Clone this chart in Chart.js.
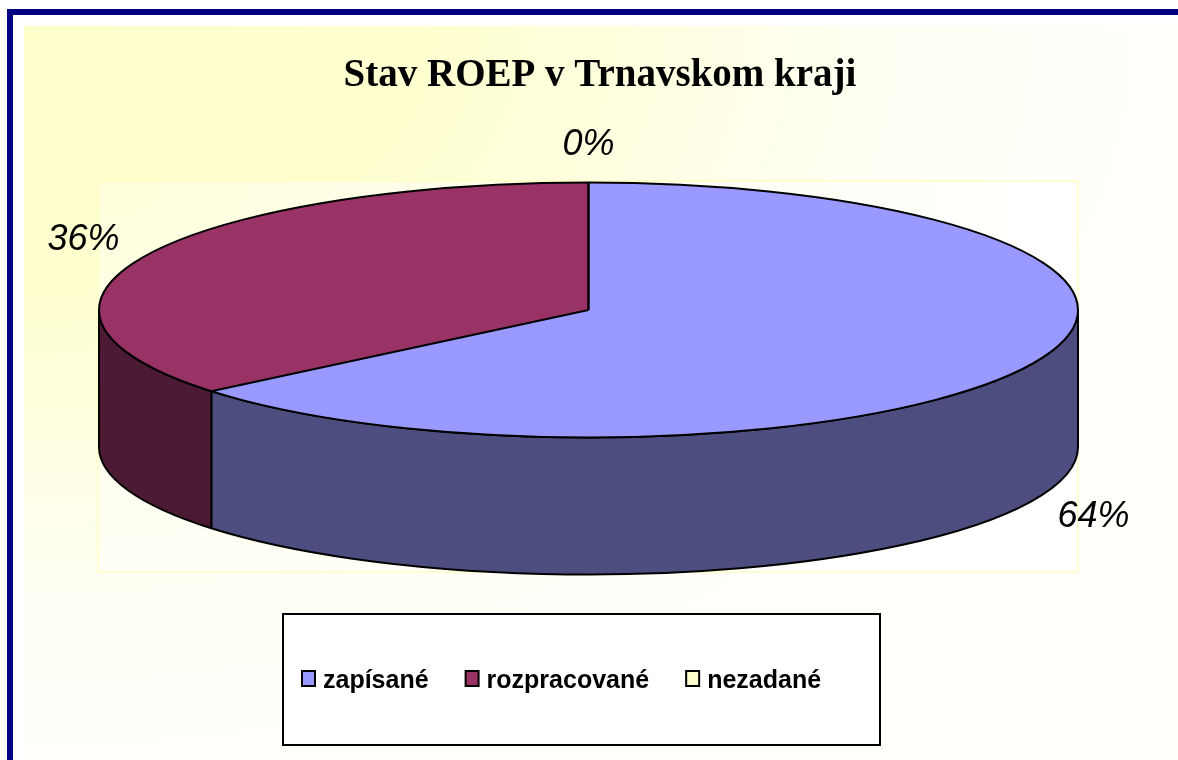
<!DOCTYPE html>
<html><head><meta charset="utf-8">
<script src="https://cdn.jsdelivr.net/npm/chart.js@4/dist/chart.umd.min.js"></script>
<style>html,body{margin:0;padding:0;background:#fff;overflow:hidden}#wrap{width:1178px;height:760px;position:relative}</style>
</head><body><div id="wrap"><canvas id="c" width="1178" height="760"></canvas></div>
<script>
// ---- data ----
const categories = ['zapísané', 'rozpracované', 'nezadané'];
const values = [64, 36, 0];
const colors = ['#9999FF', '#993366', '#FFFFCC'];
const titleText = 'Stav ROEP v Trnavskom kraji';

// ---- layout / style constants ----
const GEO = {cx: 588.5, cy: 310, rx: 489.5, ry: 127.5, depth: 137};
const SANS = "'Liberation Sans', Arial, sans-serif";
const SERIF = "'Liberation Serif', 'Times New Roman', serif";

function darken(hex, f) {
  const n = parseInt(hex.slice(1), 16);
  const r = Math.round(((n >> 16) & 255) * f), g = Math.round(((n >> 8) & 255) * f), b = Math.round((n & 255) * f);
  return 'rgb(' + r + ',' + g + ',' + b + ')';
}
function ept(a, dy) { return [GEO.cx + GEO.rx * Math.cos(a), GEO.cy + (dy || 0) + GEO.ry * Math.sin(a)]; }

const pie3d = {
  id: 'pie3d',
  beforeDraw(chart) {
    const ctx = chart.ctx;
    ctx.save();
    ctx.fillStyle = '#FFFFFF';
    ctx.fillRect(0, 0, 1178, 760);
    // outer gradient background
    ctx.save();
    ctx.beginPath(); ctx.rect(24, 26, 1154, 734); ctx.clip();
    ctx.translate(24, 26); ctx.scale(1, 0.65);
    let g = ctx.createRadialGradient(0, 0, 0, 0, 0, 1150);
    g.addColorStop(0, '#FFFFCC'); g.addColorStop(0.35, '#FFFFD0'); g.addColorStop(0.75, '#FFFFF4'); g.addColorStop(1, '#FFFFFC');
    ctx.fillStyle = g; ctx.fillRect(0, 0, 1154, 734 / 0.65);
    ctx.restore();
    // plot area
    ctx.save();
    ctx.beginPath(); ctx.rect(98, 181, 980, 391); ctx.clip();
    ctx.translate(98, 181); ctx.scale(1, 0.6);
    g = ctx.createRadialGradient(0, 0, 0, 0, 0, 1000);
    g.addColorStop(0, '#FFFFDC'); g.addColorStop(0.5, '#FFFFF2'); g.addColorStop(1, '#FFFFFF');
    ctx.fillStyle = g; ctx.fillRect(0, 0, 980, 391 / 0.6);
    ctx.restore();
    ctx.strokeStyle = '#FFFFC4'; ctx.lineWidth = 1.5;
    ctx.strokeRect(98, 181, 980, 391);
    // navy frame
    ctx.fillStyle = '#000080';
    ctx.fillRect(7, 9, 1171, 6);
    ctx.fillRect(7, 9, 6, 751);
    ctx.restore();
  },
  beforeDatasetsDraw(chart) {
    const ctx = chart.ctx;
    const arcs = chart.getDatasetMeta(0).data;
    ctx.save();
    ctx.lineWidth = 2; ctx.strokeStyle = '#000'; ctx.lineJoin = 'round';
    arcs.forEach((el, i) => {
      const a = el.startAngle, b = el.endAngle;
      if (b - a <= 0) return;
      for (let k = -1; k <= 1; k++) {
        const s = Math.max(a, 2 * Math.PI * k), e = Math.min(b, 2 * Math.PI * k + Math.PI);
        if (e <= s) continue;
        ctx.beginPath();
        ctx.ellipse(GEO.cx, GEO.cy, GEO.rx, GEO.ry, 0, s, e, false);
        ctx.lineTo(...ept(e, GEO.depth));
        ctx.ellipse(GEO.cx, GEO.cy + GEO.depth, GEO.rx, GEO.ry, 0, e, s, true);
        ctx.closePath();
        ctx.fillStyle = darken(colors[i], 0.5);
        ctx.fill();
        ctx.stroke();
      }
    });
    ctx.restore();
    // squash the library's circular pie into the ellipse of the top face
    const el0 = arcs[0];
    const R = el0.outerRadius;
    ctx.save();
    ctx.translate(GEO.cx, GEO.cy);
    ctx.scale(GEO.rx / R, GEO.ry / R);
    ctx.translate(-el0.x, -el0.y);
  },
  afterDatasetsDraw(chart) {
    const ctx = chart.ctx;
    ctx.restore();
    const arcs = chart.getDatasetMeta(0).data;
    ctx.save();
    ctx.lineWidth = 2; ctx.strokeStyle = '#000'; ctx.lineJoin = 'round';
    ctx.beginPath();
    ctx.ellipse(GEO.cx, GEO.cy, GEO.rx, GEO.ry, 0, 0, Math.PI * 2);
    ctx.stroke();
    arcs.forEach((el) => {
      ctx.beginPath();
      ctx.moveTo(GEO.cx, GEO.cy);
      ctx.lineTo(...ept(el.startAngle));
      ctx.stroke();
    });
    // percentage labels
    const total = values.reduce((s, v) => s + v, 0);
    ctx.fillStyle = '#000';
    ctx.font = 'italic 36px ' + SANS;
    ctx.textAlign = 'center'; ctx.textBaseline = 'middle';
    arcs.forEach((el, i) => {
      const m = (el.startAngle + el.endAngle) / 2;
      const c = Math.cos(m), s = Math.sin(m);
      const x = GEO.cx + 1.14 * GEO.rx * c;
      const y = GEO.cy + (1.15 * GEO.ry + 18) * s + (s > 0 ? GEO.depth : 0);
      ctx.fillText(Math.round(values[i] / total * 100) + '%', x, y);
    });
    ctx.restore();
  },
  afterDraw(chart) {
    const ctx = chart.ctx;
    ctx.save();
    ctx.fillStyle = '#FFFFFD';
    ctx.fillRect(283, 614, 597, 131);
    ctx.strokeStyle = '#000'; ctx.lineWidth = 2;
    ctx.strokeRect(283, 614, 597, 131);
    ctx.font = 'bold 25px ' + SANS;
    ctx.textBaseline = 'alphabetic'; ctx.textAlign = 'left';
    let x = 301;
    categories.forEach((lab, i) => {
      ctx.fillStyle = colors[i];
      ctx.fillRect(x + 1, 671, 13, 15);
      ctx.lineWidth = 2; ctx.strokeStyle = '#000';
      ctx.strokeRect(x + 1, 671, 13, 15);
      ctx.fillStyle = '#000';
      ctx.fillText(lab, x + 22, 688);
      x += 22 + ctx.measureText(lab).width + 36;
    });
    ctx.restore();
  }
};

new Chart(document.getElementById('c'), {
  type: 'pie',
  data: {
    labels: categories,
    datasets: [{data: values, backgroundColor: colors, borderWidth: 0, clip: false}]
  },
  options: {
    responsive: false,
    devicePixelRatio: 1,
    animation: false,
    events: [],
    layout: {padding: {left: 22, top: 53, bottom: 20}},
    plugins: {
      legend: {display: false},
      tooltip: {enabled: false},
      title: {
        display: true, text: titleText, color: '#000',
        font: {family: SERIF, size: 39, weight: 'bold'},
        padding: {top: 0, bottom: 10}
      }
    }
  },
  plugins: [pie3d]
});
</script>
</body></html>
